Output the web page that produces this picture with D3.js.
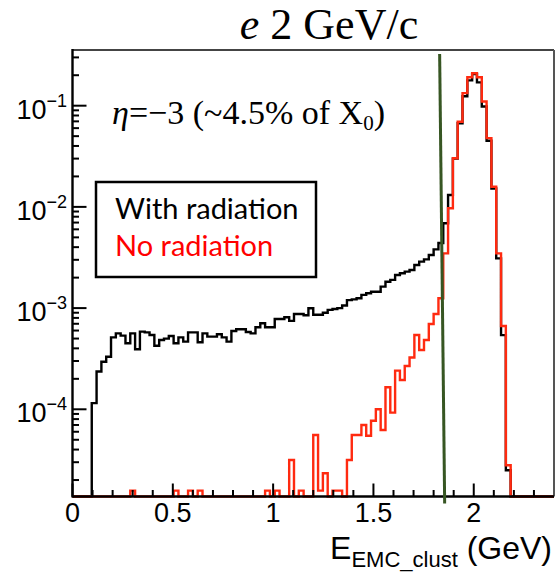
<!DOCTYPE html>
<html><head><meta charset="utf-8">
<script src="https://cdn.jsdelivr.net/npm/d3@7"></script>
<style>body{margin:0;background:#fff}svg{display:block}</style>
</head><body>
<script>
// ---------- data ----------
const binWidth = 0.024; // GeV per bin, 100 bins from 0 to 2.4
const xMajorTicks = [0, 0.5, 1, 1.5, 2];
const xTickLabels = ["0", "0.5", "1", "1.5", "2"];
const yMajorExps = [-1, -2, -3, -4];
const legendLabels = ["With radiation", "No radiation"];
const cutLine = [1.83, 1.855]; // green cut line, top/bottom x in GeV

const withRad = [
  0, 0, 0, 0, 1.15e-4, 2.36e-4, 2.95e-4, 3.31e-4, 5.14e-4, 5.63e-4,
  5.34e-4, 4.49e-4, 5.63e-4, 3.92e-4, 5.85e-4, 5.76e-4, 5.42e-4, 4.25e-4, 4.84e-4, 4.99e-4,
  5.30e-4, 4.49e-4, 5.14e-4, 4.66e-4, 5.76e-4, 5.76e-4, 4.59e-4, 5.63e-4, 5.22e-4, 5.22e-4,
  5.51e-4, 5.14e-4, 4.66e-4, 5.94e-4, 6.18e-4, 6.18e-4, 5.80e-4, 5.63e-4, 6.46e-4, 7.08e-4,
  6.46e-4, 6.46e-4, 7.80e-4, 7.80e-4, 8.11e-4, 7.47e-4, 8.75e-4, 8.75e-4, 8.49e-4, 9.95e-4,
  8.60e-4, 8.60e-4, 9.00e-4, 9.60e-4, 9.80e-4, 1.00e-3, 1.06e-3, 1.20e-3, 1.22e-3, 1.25e-3,
  1.35e-3, 1.40e-3, 1.45e-3, 1.45e-3, 1.63e-3, 1.82e-3, 1.90e-3, 2.12e-3, 2.21e-3, 2.29e-3,
  2.38e-3, 2.67e-3, 2.88e-3, 3.03e-3, 3.35e-3, 3.80e-3, 4.40e-3, 6.90e-3, 1.31e-2, 3.00e-2,
  6.70e-2, 0.124, 0.178, 0.205, 0.170, 0.098, 0.045, 1.52e-2, 3.10e-3, 5.40e-4,
  2.5e-5, 0, 0, 0, 0, 0, 0, 0, 0, 0
];
const noRad = [
  0, 0, 0, 0, 0, 0, 0, 0, 0, 0,
  0, 0, 1.57e-5, 0, 0, 0, 0, 0, 0, 0,
  0, 1.57e-5, 0, 0, 1.57e-5, 0, 1.57e-5, 0, 0, 0,
  0, 0, 0, 0, 0, 0, 0, 0, 0, 0,
  1.57e-5, 0, 1.57e-5, 0, 0, 3.16e-5, 0, 1.57e-5, 0, 0,
  5.57e-5, 1.57e-5, 2.33e-5, 0, 1.57e-5, 1.57e-5, 0, 3.16e-5, 5.57e-5, 5.57e-5,
  6.99e-5, 5.48e-5, 7.71e-5, 1.00e-4, 6.24e-5, 1.65e-4, 9.26e-5, 2.41e-4, 1.95e-4, 2.68e-4,
  3.25e-4, 5.42e-4, 3.86e-4, 4.84e-4, 6.97e-4, 8.75e-4, 1.25e-3, 3.47e-3, 9.70e-3, 3.02e-2,
  6.95e-2, 0.133, 0.191, 0.209, 0.191, 0.110, 4.78e-2, 1.58e-2, 3.47e-3, 6.65e-4,
  2.8e-5, 0, 0, 0, 0, 0, 0, 0, 0, 0
];

// ---------- layout ----------
const W = 557, H = 572;
const svg = d3.select("body").append("svg").attr("width", W).attr("height", H);

const x = d3.scaleLinear().domain([0, 2.4]).range([72.5, 554]);
const y = d3.scaleLog().domain([1.375e-5, 0.355]).range([496.5, 50]);
const [yBot, yTop] = y.range();

// histogram step path via scales
function stepPath(vals) {
  const ymin = y.domain()[0];
  const pts = [[x(0), yBot]];
  vals.forEach((v, i) => {
    const yy = v > ymin ? y(v) : yBot;
    pts.push([x(i * binWidth), yy], [x((i + 1) * binWidth), yy]);
  });
  pts.push([x(vals.length * binWidth), yBot]);
  return d3.line()(pts);
}

svg.append("path").attr("d", stepPath(withRad))
  .attr("fill", "none").attr("stroke", "#000").attr("stroke-width", 2.4);
svg.append("path").attr("d", stepPath(noRad))
  .attr("fill", "none").attr("stroke", "#ff2a10").attr("stroke-width", 2.4);

// frame
const xL = x.range()[0], xR = x.range()[1];
svg.append("line").attr("x1", xL).attr("x2", xR).attr("y1", yTop).attr("y2", yTop)
  .attr("stroke", "#444").attr("stroke-width", 2);
svg.append("line").attr("x1", xR).attr("x2", xR).attr("y1", yTop).attr("y2", yBot)
  .attr("stroke", "#555").attr("stroke-width", 2);
svg.append("line").attr("x1", xL).attr("x2", xL).attr("y1", yTop - 1).attr("y2", yBot + 1)
  .attr("stroke", "#000").attr("stroke-width", 2.4);
svg.append("line").attr("x1", xL).attr("x2", xR).attr("y1", yBot).attr("y2", yBot)
  .attr("stroke", "#000").attr("stroke-width", 2.4);

// x ticks (inside, pointing up)
const xMinor = d3.range(0, 24).map(k => k / 10);
svg.append("g").selectAll("line").data(xMinor).join("line")
  .attr("x1", d => x(d)).attr("x2", d => x(d))
  .attr("y1", yBot).attr("y2", d => yBot - (Math.abs(d * 2 - Math.round(d * 2)) < 1e-6 ? 13 : 6.5))
  .attr("stroke", "#000").attr("stroke-width", 2);
svg.append("g").selectAll("text").data(xMajorTicks).join("text")
  .attr("x", d => x(d)).attr("y", 522)
  .attr("text-anchor", "middle")
  .attr("font-family", "Liberation Sans, Arial, sans-serif").attr("font-size", 27)
  .text((d, i) => xTickLabels[i]);

// y ticks (inside, pointing right)
const yMinor = [];
[-5, -4, -3, -2, -1].forEach(e => { for (let k = 2; k <= 9; k++) yMinor.push(k * Math.pow(10, e)); });
const yMinorIn = yMinor.filter(v => v > y.domain()[0] && v < y.domain()[1]);
svg.append("g").selectAll("line").data(yMinorIn).join("line")
  .attr("x1", xL).attr("x2", xL + 6.5)
  .attr("y1", d => y(d)).attr("y2", d => y(d))
  .attr("stroke", "#000").attr("stroke-width", 2);
svg.append("g").selectAll("line").data(yMajorExps).join("line")
  .attr("x1", xL).attr("x2", xL + 14)
  .attr("y1", d => y(Math.pow(10, d))).attr("y2", d => y(Math.pow(10, d)))
  .attr("stroke", "#000").attr("stroke-width", 2);
const yl = svg.append("g").selectAll("text").data(yMajorExps).join("text")
  .attr("x", 67).attr("y", d => y(Math.pow(10, d)) + 13)
  .attr("text-anchor", "end")
  .attr("font-family", "Liberation Sans, Arial, sans-serif").attr("font-size", 27);
yl.append("tspan").text("10");
yl.append("tspan").attr("font-size", 18).attr("dy", -12).text(d => "\u2212" + (-d));

// x axis title
const xt = svg.append("text").attr("x", 552).attr("y", 559).attr("text-anchor", "end")
  .attr("font-family", "Liberation Sans, Arial, sans-serif").attr("font-size", 32);
xt.append("tspan").text("E");
xt.append("tspan").attr("font-size", 22).attr("dy", 8).text("EMC_clust");
xt.append("tspan").attr("dy", -8).text(" (GeV)");

// title
const tt = svg.append("text").attr("x", 329).attr("y", 39).attr("text-anchor", "middle")
  .attr("font-family", "Liberation Serif, Times New Roman, serif").attr("font-size", 44);
tt.append("tspan").attr("font-style", "italic").text("e");
tt.append("tspan").text(" 2 GeV/c");

// annotation
const an = svg.append("text").attr("x", 112).attr("y", 124)
  .attr("font-family", "Liberation Serif, Times New Roman, serif").attr("font-size", 34);
an.append("tspan").attr("font-style", "italic").text("\u03B7");
an.append("tspan").text("=\u22123 (~4.5% of X");
an.append("tspan").attr("font-size", 21).attr("dy", 6).text("0");
an.append("tspan").attr("dy", -6).text(")");

// legend
svg.append("rect").attr("x", 96).attr("y", 182).attr("width", 220).attr("height", 95)
  .attr("fill", "#fff").attr("stroke", "#000").attr("stroke-width", 2.5);
const legColors = ["#000", "#ff0000"];
svg.append("g").selectAll("text").data(legendLabels).join("text")
  .attr("x", 115).attr("y", (d, i) => 219 + i * 37)
  .attr("font-family", "Lato, Open Sans, sans-serif").attr("font-size", 29)
  .attr("fill", (d, i) => legColors[i]).text(d => d);

// green cut line
svg.append("line")
  .attr("x1", x(cutLine[0])).attr("y1", yTop + 4)
  .attr("x2", x(cutLine[1])).attr("y2", yBot + 7)
  .attr("stroke", "#375623").attr("stroke-width", 3);
</script>
</body></html>
